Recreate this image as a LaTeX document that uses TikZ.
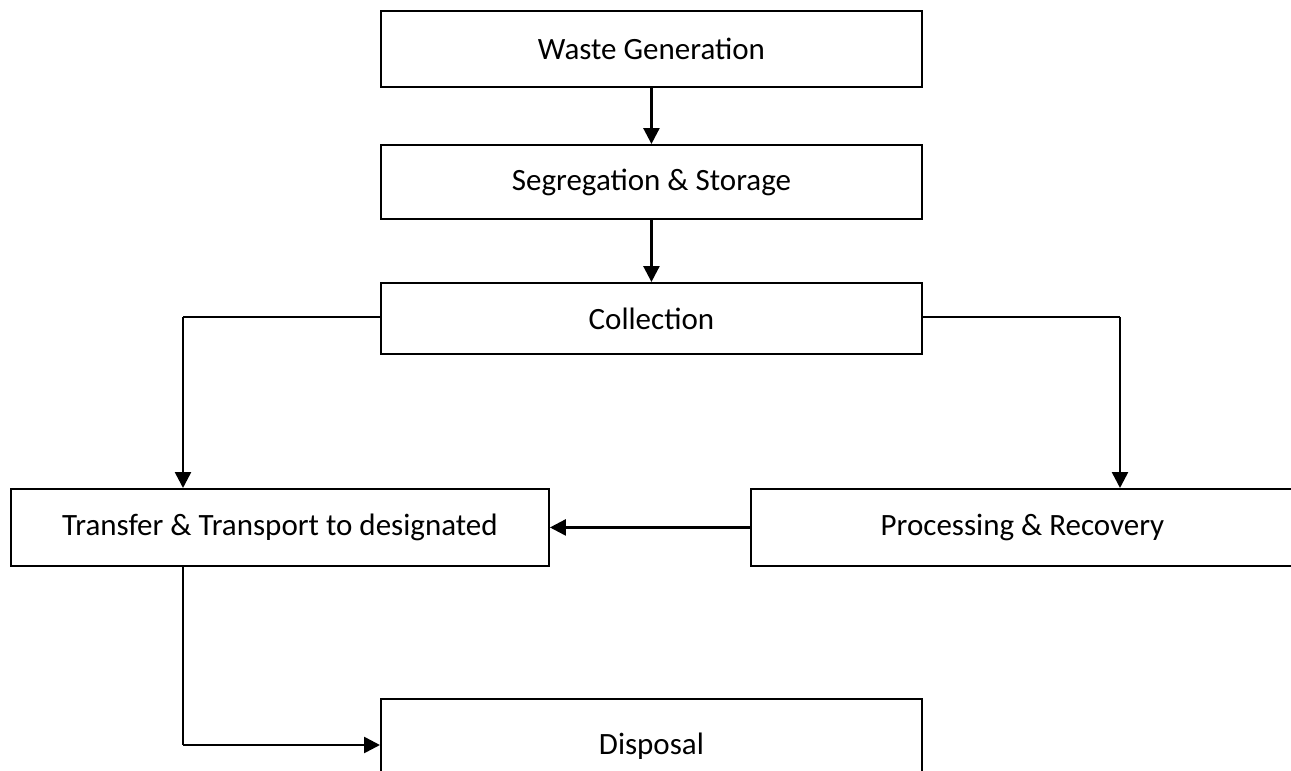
\documentclass[tikz,border=0pt]{standalone}
\usepackage{fontspec}
\setmainfont{Carlito}
\usetikzlibrary{arrows.meta}
\begin{document}
\begin{tikzpicture}[x=1pt,y=-1pt,
  box/.style={draw=black, line width=1.9pt, inner sep=0pt, anchor=north west, font=\fontsize{31}{36}\selectfont},
  conn/.style={draw=black, line width=2.6pt},
  arr/.style={conn, -{Triangle[length=16pt,width=16pt]}}]
\useasboundingbox (0,0) rectangle (1291,771);
\clip (0,0) rectangle (1291,771);
\fill[white] (0,0) rectangle (1291,771);
\node[box, minimum width=541pt, minimum height=76pt] (wg) at (380,10) {Waste Generation};
\node[box, minimum width=541pt, minimum height=74pt] (ss) at (380,144) {Segregation \& Storage};
\node[box, minimum width=541pt, minimum height=71pt] (co) at (380,282) {Collection};
\node[box, minimum width=538pt, minimum height=77pt] (tr) at (10,488) {Transfer \& Transport to designated};
\node[box, minimum width=543pt, minimum height=77pt] (pr) at (750,488) {Processing \& Recovery};
\node[box, minimum width=541pt, minimum height=94pt] (di) at (380,698) {Disposal};
\coordinate (cl) at (183,317);
\coordinate (cr) at (1120,317);
\coordinate (tb) at (183,745);
\draw[arr] (wg.south) -- (ss.north);
\draw[arr] (ss.south) -- (co.north);
\draw[conn, line width=1.9pt] (co.west |- cl) -- (cl);
\draw[arr] (cl) -- (cl |- tr.north);
\draw[conn, line width=1.9pt] (co.east |- cr) -- (cr);
\draw[arr] (cr) -- (cr |- pr.north);
\draw[arr] (pr.west) -- (tr.east);
\draw[conn] (tr.south -| tb) -- (tb);
\draw[arr] (tb) -- (di.west |- tb);
\end{tikzpicture}
\end{document}
